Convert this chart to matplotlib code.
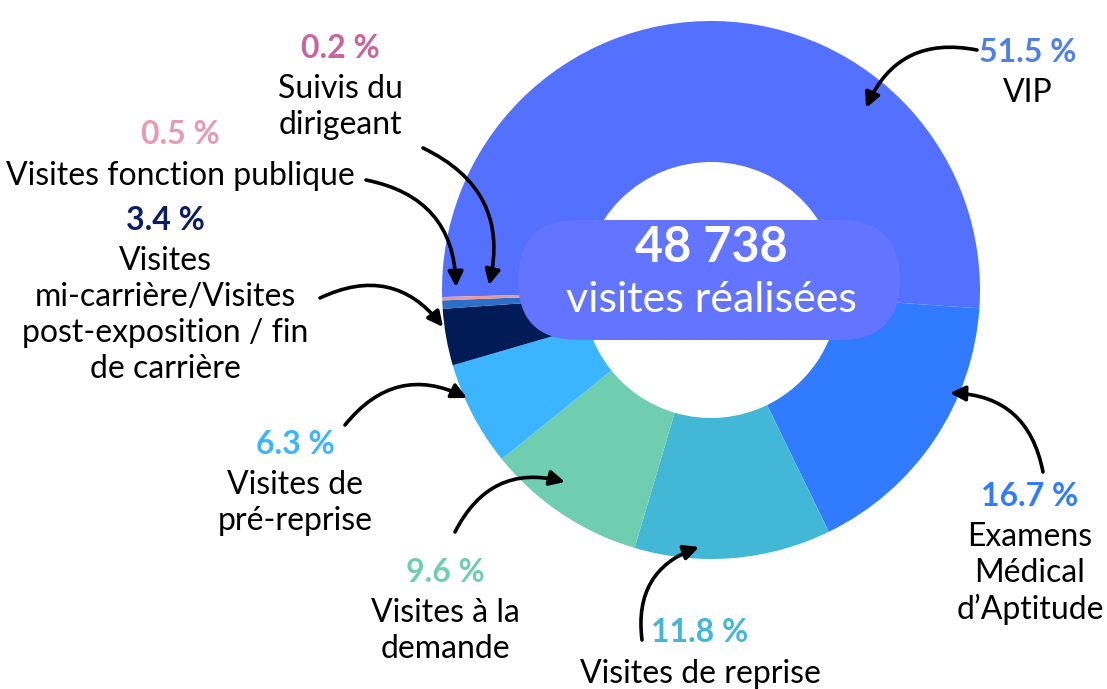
import matplotlib.pyplot as plt
from matplotlib.patches import FancyBboxPatch

plt.rcParams['font.family'] = ['Lato', 'DejaVu Sans']

# data
categories = ["VIP", "Examens Médical d'Aptitude", "Visites de reprise",
              "Visites à la demande", "Visites de pré-reprise",
              "Visites mi-carrière/Visites post-exposition / fin de carrière",
              "Visites fonction publique", "Suivis du dirigeant"]
shares = [51.5, 16.7, 11.8, 9.6, 6.3, 3.4, 0.5, 0.2]
wedge_colors = ["#5470FF", "#307BFF", "#43B8D6", "#70CEB0", "#3BB5FF",
                "#001B55", "#2C6FC9", "#E8979A"]
pct_colors = ["#4F80EA", "#307BFF", "#43B8D6", "#70CEB0", "#3BB5FF",
              "#0B1F60", "#E89AB0", "#C8659E"]
label_lines = [["VIP"], ["Examens", "Médical", "d’Aptitude"], ["Visites de reprise"],
               ["Visites à la", "demande"], ["Visites de", "pré-reprise"],
               ["Visites", "mi-carrière/Visites", "post-exposition / fin", "de carrière"],
               ["Visites fonction publique"], ["Suivis du", "dirigeant"]]
total_visits = "48 738"

H = 689
fig = plt.figure(figsize=(11.07, 6.89), dpi=100)
ax = fig.add_axes([0, 0, 1, 1])

cx, cy, R = 711, H - 290, 269
ax.pie(shares, colors=wedge_colors, startangle=181.5, counterclock=False,
       radius=R, center=(cx, cy), wedgeprops=dict(width=141, linewidth=0))

ax.set_xlim(0, 1107)
ax.set_ylim(0, H)
ax.set_aspect('equal')
ax.axis('off')

# center pill
box = FancyBboxPatch((518, H - 340), 382, 120,
                     boxstyle="round,pad=0,rounding_size=60",
                     fc="#6374FF", ec="none", zorder=3)
ax.add_patch(box)
ax.text(711, H - 247, total_visits, color="white", fontsize=35, fontweight="bold",
        ha="center", va="center", zorder=4)
ax.text(711, H - 300, "visites réalisées", color="white", fontsize=31,
        ha="center", va="center", zorder=4)

# label positions (centre of the % line) and arrows (start -> end), image coords
label_pos = [(1028, 52), (1030, 496), (700, 633), (445, 572), (295, 444),
             (165, 220), (180, 135), (340, 48)]
arrows = [((977, 50), (866, 108), 0.4),
          ((1043, 472), (950, 393), 0.4),
          ((642, 640), (699, 547), -0.4),
          ((455, 532), (565, 482), -0.4),
          ((345, 425), (467, 398), -0.4),
          ((320, 298), (443, 327), -0.4),
          ((366, 180), (456, 287), -0.4),
          ((423, 148), (489, 285), -0.4)]

for i in range(len(shares)):
    x, y = label_pos[i]
    ax.text(x, H - y, f"{shares[i]} %", color=pct_colors[i], fontsize=23,
            fontweight="bold", ha="center", va="center")
    for j, line in enumerate(label_lines[i]):
        ax.text(x, H - y - 41 - 36 * j, line, color="black", fontsize=23,
                ha="center", va="center")
    (x0, y0), (x1, y1), rad = arrows[i]
    ax.annotate("", xy=(x1, H - y1), xytext=(x0, H - y0),
                arrowprops=dict(arrowstyle="-|>,head_length=0.9,head_width=0.45",
                                color="black", lw=2.6, shrinkA=0, shrinkB=0,
                                connectionstyle=f"arc3,rad={rad}"), zorder=5)

plt.savefig("out.png", dpi=100)
